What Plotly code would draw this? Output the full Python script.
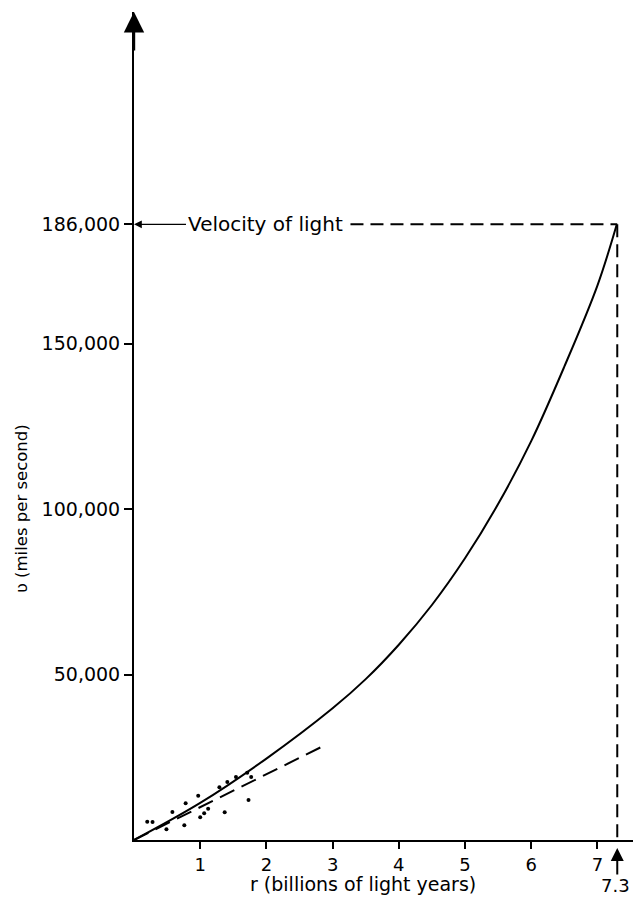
import plotly.graph_objects as go

# ---- data ----
curve_r = [0.0, 1.0, 2.0, 3.0, 3.5, 4.0, 4.5, 5.0, 5.5, 6.0, 6.5, 7.0, 7.29]
curve_v = [0, 11200, 24600, 39800, 48600, 59000, 71000, 85100, 101500, 120500, 143000, 167500, 185800]

linear_r = [0.0, 2.86]
linear_v = [0, 28400]

obs_r = [0.20, 0.28, 0.49, 0.58, 0.76, 0.78, 0.97, 1.00, 1.06, 1.12, 1.29, 1.37, 1.41, 1.54, 1.71, 1.77, 1.73]
obs_v = [5530, 5440, 3230, 8460, 4430, 11090, 13400, 6850, 8060, 9460, 15900, 8360, 17500, 19000, 20300, 19000, 12100]

x_ticks = [1, 2, 3, 4, 5, 6, 7]
y_ticks = [50000, 100000, 150000, 186000]
y_tick_text = ["50,000", "100,000", "150,000", "186,000"]

light_speed = 186000
horizon_r = 7.3
label_end_r = 3.27

FONT = "DejaVu Sans"

fig = go.Figure()

fig.add_trace(go.Scatter(x=curve_r, y=curve_v, mode="lines",
                         line=dict(color="black", width=2, shape="spline", smoothing=1.0),
                         showlegend=False, hoverinfo="skip"))
fig.add_trace(go.Scatter(x=linear_r, y=linear_v, mode="lines",
                         line=dict(color="black", width=2, dash="16px,8px"),
                         showlegend=False, hoverinfo="skip"))
fig.add_trace(go.Scatter(x=obs_r, y=obs_v, mode="markers",
                         marker=dict(color="black", size=4),
                         showlegend=False, hoverinfo="skip"))
# velocity of light guide lines
fig.add_trace(go.Scatter(x=[label_end_r, horizon_r], y=[light_speed, light_speed], mode="lines",
                         line=dict(color="black", width=2, dash="13px,7px"),
                         showlegend=False, hoverinfo="skip"))
fig.add_trace(go.Scatter(x=[horizon_r, horizon_r], y=[light_speed, 0], mode="lines",
                         line=dict(color="black", width=2, dash="13px,7px"),
                         showlegend=False, hoverinfo="skip"))

# page is 633x897; body margin is removed below so figure fills the page
W, H = 633, 897
ml, mr, mt, mb = 134, 0, 12, 57
px_per_r = 66.2
px_per_v = 3.31 / 1000
pw, ph = W - ml - mr, H - mt - mb
x_max = pw / px_per_r
y_max = ph / px_per_v

fig.update_layout(
    width=W, height=H,
    margin=dict(l=ml, r=mr, t=mt, b=mb),
    paper_bgcolor="white", plot_bgcolor="white",
    font=dict(family=FONT, color="black"),
    xaxis=dict(range=[0, x_max], showgrid=False, zeroline=False,
               showline=True, linecolor="black", linewidth=2,
               tickmode="array", tickvals=x_ticks, ticktext=[str(t) for t in x_ticks],
               ticks="outside", ticklen=7, tickwidth=2, tickcolor="black",
               tickfont=dict(size=18, family=FONT, color="black")),
    yaxis=dict(range=[0, y_max], showgrid=False, zeroline=False,
               showline=True, linecolor="black", linewidth=2,
               tickmode="array", tickvals=y_ticks, ticktext=y_tick_text,
               ticks="outside", ticklen=8, tickwidth=1.5, tickcolor="black",
               tickfont=dict(size=19, family=FONT, color="black")),
)


def page_to_paper(px, py):
    """convert page pixel position to paper coordinates"""
    return (px - ml) / pw, (H - mb - py) / ph


tx, ty = page_to_paper(363, 884)
yx, yy = page_to_paper(21, 509)
sx, sy = page_to_paper(632, 885)

annotations = [
    # top arrowhead on the y axis
    dict(x=0, y=1, xref="x", yref="paper", ax=0, ay=40, axref="pixel", ayref="pixel",
         text="", showarrow=True, arrowhead=2, arrowsize=1.7, arrowwidth=2.4, arrowcolor="black"),
    # velocity of light label with arrow to axis
    dict(x=0, y=light_speed, xref="x", yref="y", ax=131, ay=0,
         text="Velocity of light", showarrow=True, arrowhead=2, arrowsize=1.3,
         arrowwidth=1.2, arrowcolor="black", font=dict(size=20, family=FONT, color="black")),
    # 7.3 marker arrow
    dict(x=horizon_r, y=0, xref="x", yref="y", ax=0, ay=36,
         text="", showarrow=True, arrowhead=2, arrowsize=1.3, arrowwidth=2,
         arrowcolor="black", standoff=8),
    dict(x=sx, y=sy, xref="paper", yref="paper", xanchor="right", yanchor="middle",
         text="7.3", showarrow=False, font=dict(size=18, family=FONT, color="black")),
    # axis titles
    dict(x=tx, y=ty, xref="paper", yref="paper", xanchor="center", yanchor="middle",
         text="r (billions of light years)",
         showarrow=False, font=dict(size=19, family=FONT, color="black")),
    dict(x=yx, y=yy, xref="paper", yref="paper", xanchor="center", yanchor="middle",
         text="ʋ (miles per second)", textangle=-90,
         showarrow=False, font=dict(size=16.5, family=FONT, color="black")),
]
fig.update_layout(annotations=annotations)

fig.write_html("out.html",
               config={"displayModeBar": False},
               post_script="document.body.style.margin='0';document.body.style.overflow='hidden';")
